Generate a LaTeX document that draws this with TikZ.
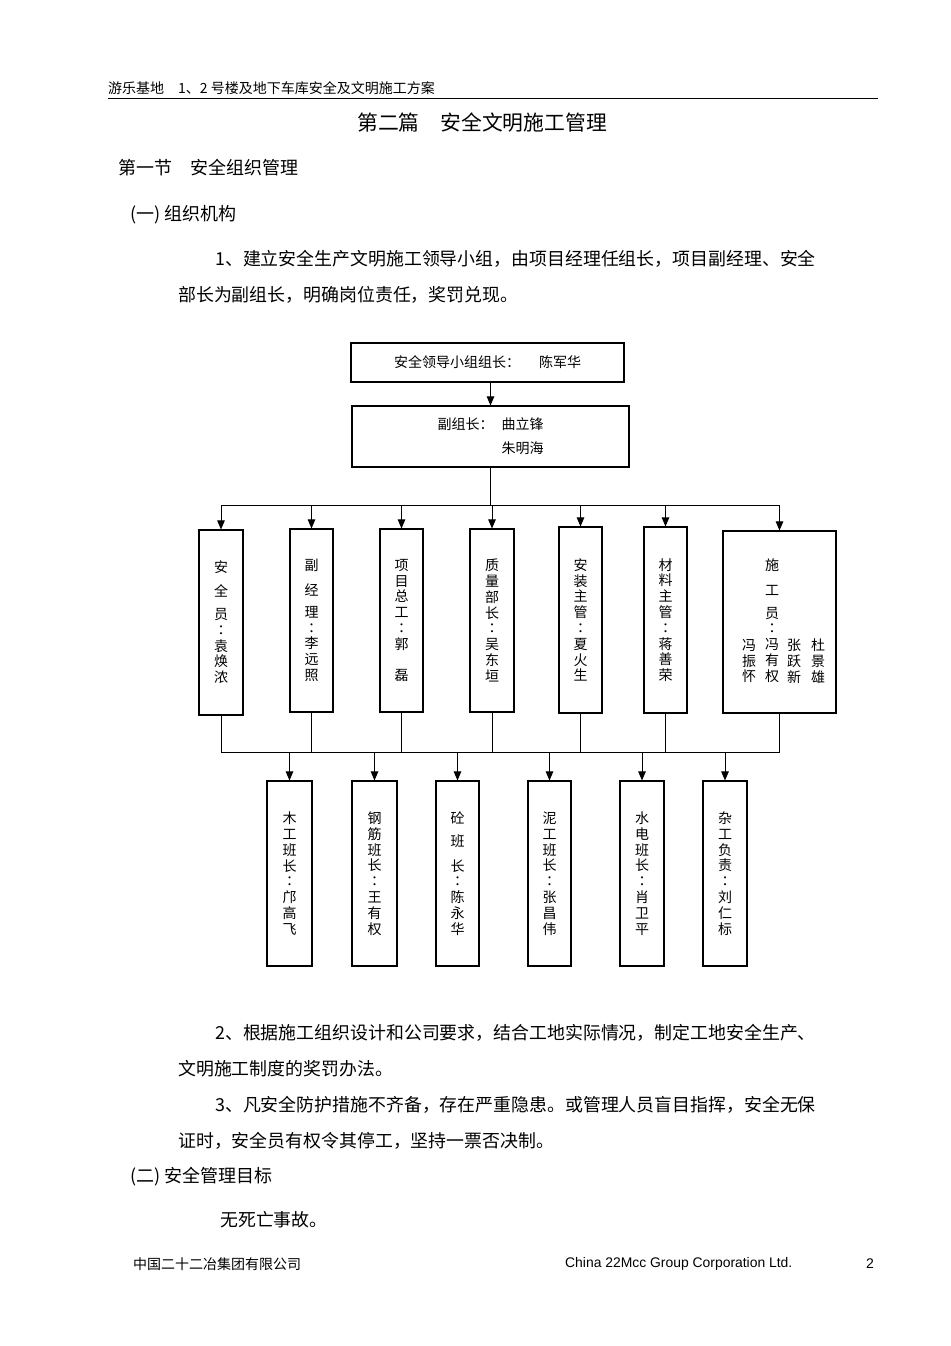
\documentclass[tikz,border=0pt]{standalone}
\usepackage{fontspec}
\setmainfont{Noto Sans CJK SC}
\newfontfamily\cjktc{Noto Sans CJK TC}
\newfontfamily\engfont{Liberation Sans}
\usetikzlibrary{arrows.meta}
\newcommand{\vc}{{\cjktc ：}}
\newcommand{\fs}[1]{\fontsize{#1}{#1}\selectfont}
\begin{document}
\begin{tikzpicture}[x=1pt, y=-1pt,
  box/.style = {draw, line width=1.1pt, inner sep=0pt, align=center, font=\fs{14}},
  vbox/.style = {box, font=\fontsize{14}{15.8}\selectfont},
  txt/.style = {anchor=west, inner sep=0pt, font=\fs{17.9}},
  arr/.style = {line width=0.9pt, -{Triangle[length=9pt, width=7.5pt]}},
  link/.style = {line width=0.9pt}]
\useasboundingbox (0,0) rectangle (950,1346);
\fill[white] (0,0) rectangle (950,1346);
% page text above
\node[txt, font=\fs{14}] (head) at (108,88) {游乐基地\quad 1、2 号楼及地下车库安全及文明施工方案};
\draw[line width=0.8pt] (108,98) -- (878,98);
\node[inner sep=0pt, font=\fs{20.8}] (title) at (482,123) {第二篇\hspace{1em}安全文明施工管理};
\node[txt, font=\fs{18}] (sec) at (118,168) {第一节\hspace{1em}安全组织管理};
\node[txt, font=\fs{18}] (sub1) at (130,215) {(一) 组织机构};
\node[txt] (p1a) at (215,259) {1、建立安全生产文明施工领导小组，由项目经理任组长，项目副经理、安全};
\node[txt] (p1b) at (178,295) {部长为副组长，明确岗位责任，奖罚兑现。};
% chart
\node[box, line width=1.5pt, minimum width=273, minimum height=39] (ldxz) at (487.5,362.5) {安全领导小组组长：\hspace{19pt}陈军华};
\node[box, minimum width=277, minimum height=61, align=left, font=\fontsize{14}{24}\selectfont] (fzz) at (490.5,436.5) {副组长：\hspace{8pt}曲立锋\\\hspace*{64pt}朱明海};
\node[vbox, minimum width=44, minimum height=185] (aqy) at (221,622.5) {安\\[7.5pt]全\\[7.5pt]员\\\vc\\袁\\焕\\浓};
\node[vbox, minimum width=43, minimum height=183] (fjl) at (311.5,620.5) {副\\[9pt]经\\[6pt]理\\\vc\\李\\远\\照};
\node[vbox, minimum width=43, minimum height=183] (xmzg) at (401.5,620.5) {项\\目\\总\\工\\\vc\\郭\\\mbox{}\\磊};
\node[vbox, minimum width=44, minimum height=183] (zlbz) at (492,620.5) {质\\量\\部\\长\\\vc\\吴\\东\\垣};
\node[vbox, minimum width=43, minimum height=186] (azzg) at (580.5,620) {安\\装\\主\\管\\\vc\\夏\\火\\生};
\node[vbox, minimum width=43, minimum height=186] (clzg) at (665.5,620) {材\\料\\主\\管\\\vc\\蒋\\善\\荣};
\node[box, minimum width=113, minimum height=182] (sgy) at (779.5,622) {};
\node[vbox, draw=none] (sgyb) at (772,620.5) {施\\[9pt]工\\[7pt]员\\\vc\\冯\\有\\权};
\node[vbox, draw=none] (sgya) at (749,661) {冯\\振\\怀};
\node[vbox, draw=none] (sgyc) at (794,661) {张\\跃\\新};
\node[vbox, draw=none] (sgyd) at (818,661) {杜\\景\\雄};
\node[vbox, minimum width=45, minimum height=185] (mg) at (289.5,873.5) {木\\工\\班\\长\\\vc\\邝\\高\\飞};
\node[vbox, minimum width=45, minimum height=185] (gj) at (374.5,873.5) {钢\\筋\\班\\长\\\vc\\王\\有\\权};
\node[vbox, minimum width=43, minimum height=185] (tong) at (457.5,873.5) {砼\\[7pt]班\\[9pt]长\\\vc\\陈\\永\\华};
\node[vbox, minimum width=43, minimum height=185] (ng) at (549.5,873.5) {泥\\工\\班\\长\\\vc\\张\\昌\\伟};
\node[vbox, minimum width=44, minimum height=185] (sd) at (642,873.5) {水\\电\\班\\长\\\vc\\肖\\卫\\平};
\node[vbox, minimum width=44, minimum height=185] (zg) at (725,873.5) {杂\\工\\负\\责\\\vc\\刘\\仁\\标};
\draw[arr] (ldxz.south -| fzz.north) -- (fzz.north);
\coordinate (bus1) at (492,505);
\coordinate (bus2) at (492,752);
\draw[link] (fzz.south) -- (fzz.south |- bus1);
\draw[link] (aqy.north |- bus1) -- (sgy.north |- bus1);
\foreach \b in {aqy,fjl,xmzg,zlbz,azzg,clzg,sgy}
  \draw[arr] (\b.north |- bus1) -- (\b.north);
\foreach \b in {aqy,fjl,xmzg,zlbz,azzg,clzg,sgy}
  \draw[link] (\b.south) -- (\b.south |- bus2);
\draw[link] (aqy.south |- bus2) -- (sgy.south |- bus2);
\foreach \b in {mg,gj,tong,ng,sd,zg}
  \draw[arr] (\b.north |- bus2) -- (\b.north);
% page text below
\node[txt] (p2a) at (215,1033) {2、根据施工组织设计和公司要求，结合工地实际情况，制定工地安全生产、};
\node[txt] (p2b) at (178,1069) {文明施工制度的奖罚办法。};
\node[txt] (p3a) at (215,1105) {3、凡安全防护措施不齐备，存在严重隐患。或管理人员盲目指挥，安全无保};
\node[txt] (p3b) at (178,1141) {证时，安全员有权令其停工，坚持一票否决制。};
\node[txt, font=\fs{18}] (sub2) at (130,1177) {(二) 安全管理目标};
\node[txt] (goal) at (220,1220) {无死亡事故。};
\node[txt, font=\fs{14}] (corp) at (133,1264) {中国二十二冶集团有限公司};
\node[txt, font=\engfont\fs{13.9}] (eng) at (565,1264) {China 22Mcc Group Corporation Ltd.};
\node[txt, font=\engfont\fs{14}] (page) at (866,1264) {2};
\end{tikzpicture}
\end{document}
